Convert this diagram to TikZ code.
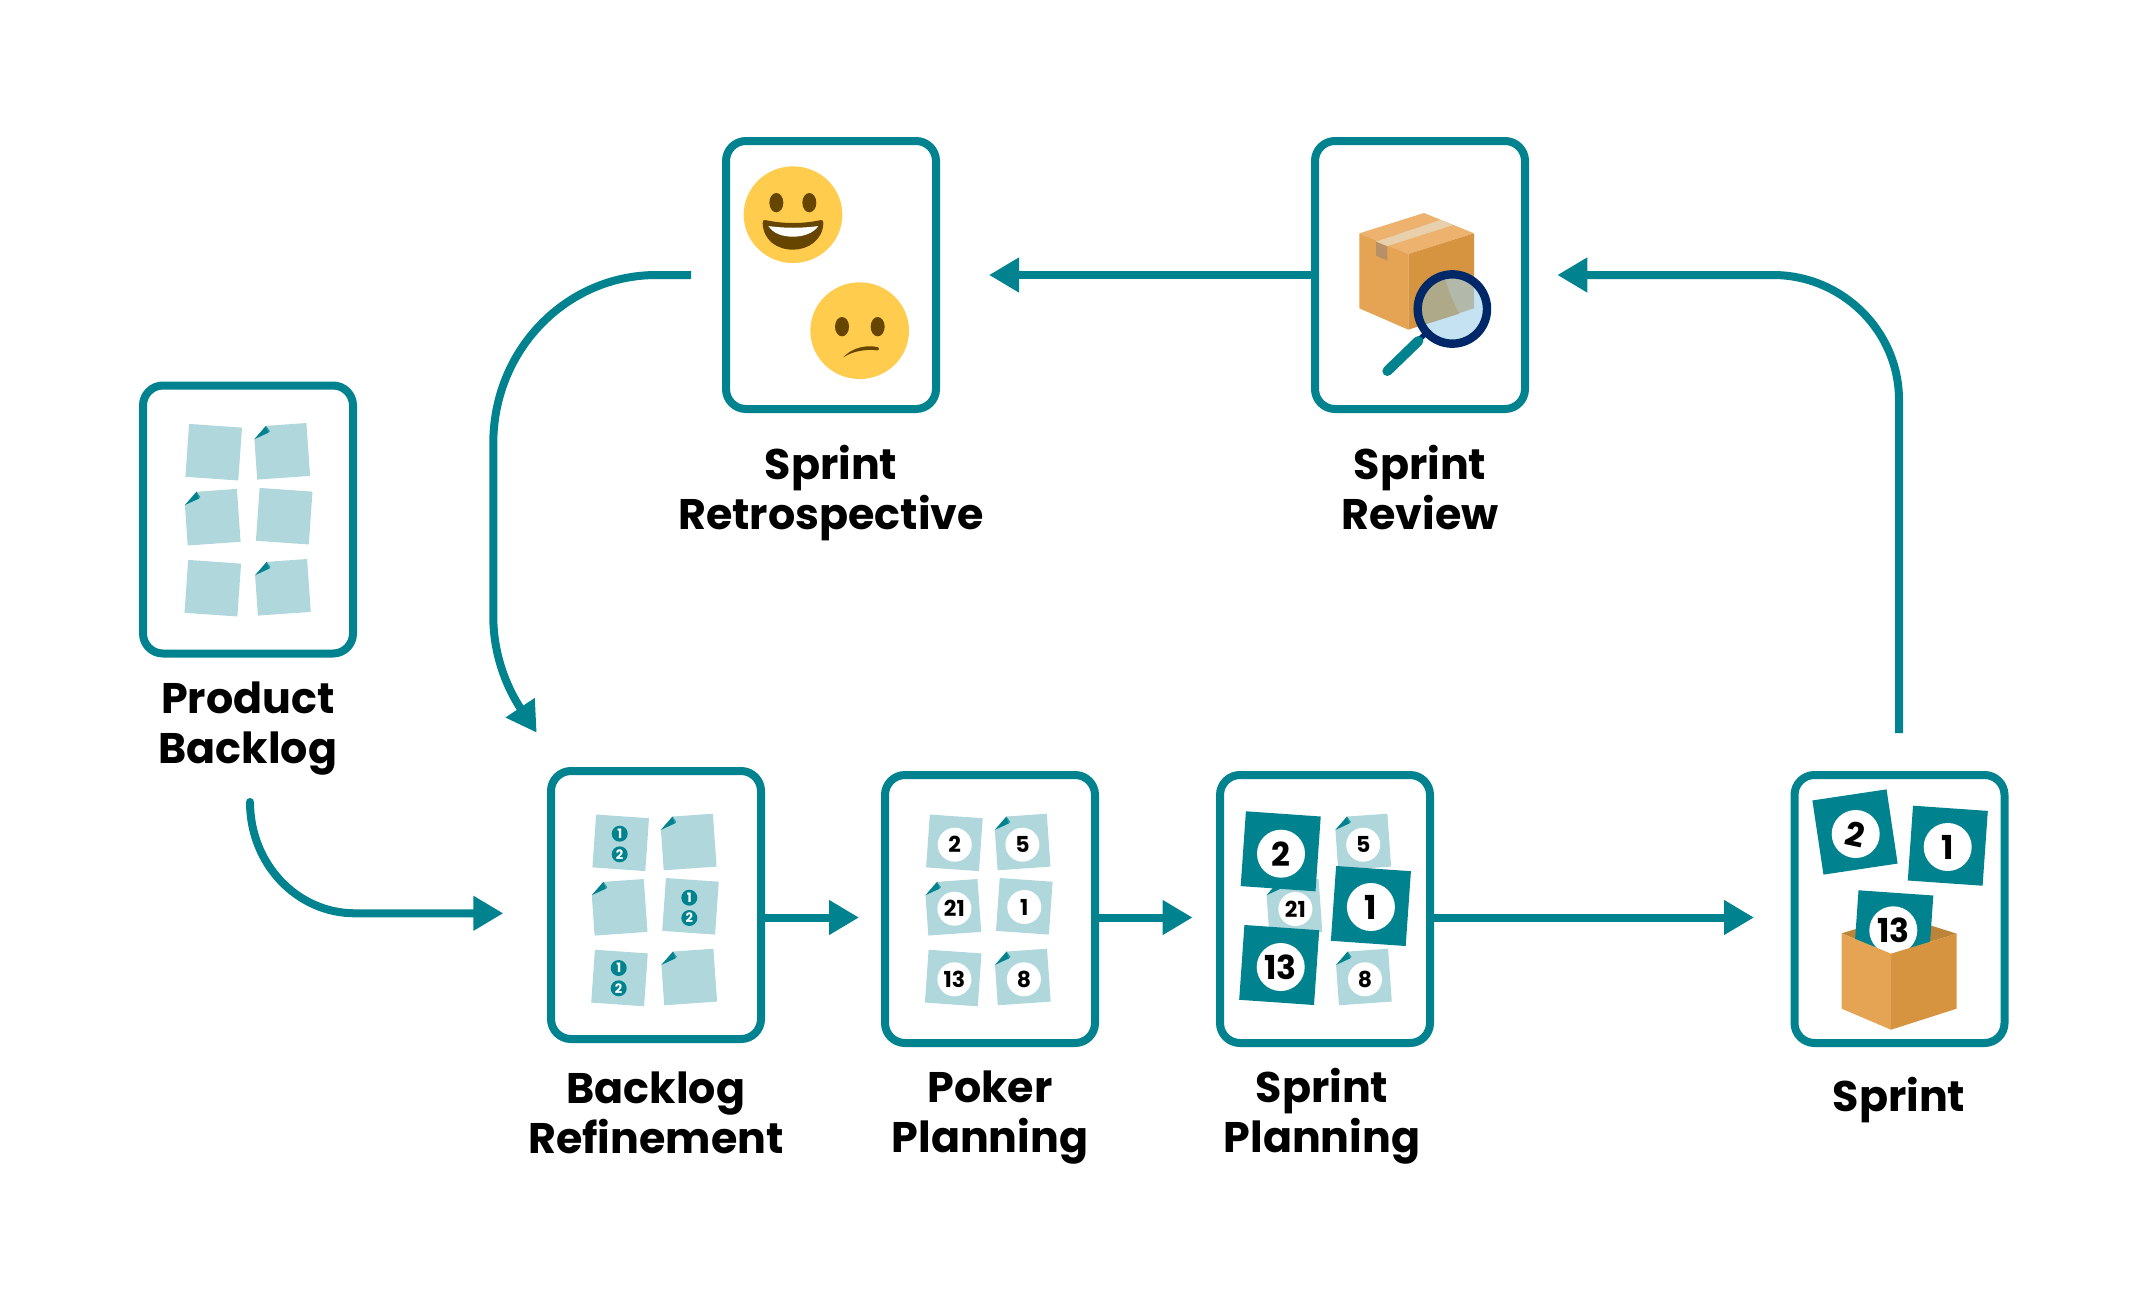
\documentclass[tikz,border=0pt]{standalone}
\usepackage{fontspec}
\setmainfont{Poppins}
\usetikzlibrary{arrows.meta}
\definecolor{tealc}{HTML}{00838F}
\definecolor{stick}{HTML}{B0D8DC}
\definecolor{foldl}{HTML}{2E9CA6}
\definecolor{boxl}{HTML}{E5A453}
\definecolor{boxr}{HTML}{D69440}
\definecolor{boxt}{HTML}{ECB26E}
\definecolor{boxb}{HTML}{BB8439}
\definecolor{emo}{HTML}{FFCC4D}
\definecolor{emod}{HTML}{664500}
\definecolor{navy}{HTML}{002868}
\definecolor{lensa}{HTML}{C5E2F2}
\definecolor{lensb}{HTML}{B2B9AA}
\definecolor{lensc}{HTML}{AEA988}
\definecolor{tapea}{HTML}{E9D0AD}
\definecolor{tapeb}{HTML}{B89068}
\tikzset{
  card/.style={draw=tealc,line width=4pt,fill=white,rounded corners=10pt,minimum width=105pt,minimum height=134pt,inner sep=0pt,outer sep=0pt},
  lbl/.style={font=\fontsize{21.4}{25}\selectfont\bfseries,align=center,text=black,inner sep=0pt},
  flow/.style={draw=tealc,line width=4pt,-{Triangle[length=15pt,width=16.5pt]}},
  chip/.style={circle,fill=white,text=black,inner sep=0pt,font=\fontsize{11}{11}\selectfont\bfseries,minimum size=17pt},
  bigchip/.style={circle,fill=white,text=black,inner sep=0pt,font=\fontsize{16.5}{16.5}\selectfont\bfseries,minimum size=24pt},
  tiny/.style={circle,fill=tealc,text=white,inner sep=0pt,font=\fontsize{6.5}{6.5}\selectfont\bfseries,minimum size=8pt},
  zoomc/.style={x=0.166667pt,y=-0.166667pt}
}
% centre x, centre y, rotation
\newcommand\plainnote[3]{\fill[stick,shift={(#1,#2)},rotate=#3] (-26.5,-26.5) rectangle (26.5,26.5);}
\newcommand\foldnote[3]{\begin{scope}[shift={(#1,#2)},rotate=#3]
  \fill[stick] (-14,-26.5) -- (26.5,-26.5) -- (26.5,26.5) -- (-26.5,26.5) -- (-26.5,-14) -- cycle;
  \fill[foldl] (-14,-26.5) -- (-10.5,-21) -- (-12,-19.5) -- cycle;
  \fill[tealc] (-26.5,-14) -- (-14,-26.5) -- (-12,-19.5) -- cycle;
\end{scope}}
\newcommand\darknote[3]{\fill[tealc,shift={(#1,#2)},rotate=#3] (-37.5,-37.5) rectangle (37.5,37.5);}
\begin{document}
\begin{tikzpicture}[x=0.5pt,y=-0.5pt]
\useasboundingbox (0,0) rectangle (2148,1301);
% free ends of the connectors
\coordinate (pbstart) at (250,802);
\coordinate (pbtip) at (503.3,913.3);
\coordinate (pokertip) at (859,917.5);
\coordinate (plantip) at (1192.6,917.5);
\coordinate (sprinttip) at (1754,917.5);
\coordinate (srstart) at (1899,733);
\coordinate (srtip) at (1557.3,275);
\coordinate (retrotip) at (989,275);
\coordinate (rtstart) at (691,275);
\coordinate (rttip) at (536.7,732.7);
% cards
\node[card] (product) at (248,519.5) {};
\node[card] (refine) at (656,905) {};
\node[card] (poker) at (990,909) {};
\node[card] (planning) at (1325,909) {};
\node[card] (sprint) at (1899.5,909) {};
\node[card] (retro) at (831,275) {};
\node[card] (review) at (1420,275) {};
% labels
\node[lbl] (lproduct) at (248,728.3) {Product\strut\\Backlog\strut};
\node[lbl] (lrefine) at (656,1118) {Backlog\strut\\Refinement\strut};
\node[lbl] (lpoker) at (990,1117) {Poker\strut\\Planning\strut};
\node[lbl] (lplanning) at (1322,1117) {Sprint\strut\\Planning\strut};
\node[lbl] (lsprint) at (1899,1101) {Sprint\strut};
\node[lbl] (lretro) at (831,494.5) {Sprint\strut\\Retrospective\strut};
\node[lbl] (lreview) at (1420,494.5) {Sprint\strut\\Review\strut};
% connectors
\draw[flow,line cap=round] (pbstart) .. controls (250,864) and (297,913.3) .. (355,913.3) -- (pbtip);
\draw[flow] (refine.east |- pokertip) -- (pokertip);
\draw[flow] (poker.east |- plantip) -- (plantip);
\draw[flow] (planning.east |- sprinttip) -- (sprinttip);
\draw[flow] (srstart) -- (1899,400) .. controls (1899,331) and (1842,275) .. (1773,275) -- (srtip);
\draw[flow] (review.west) -- (retrotip);
\draw[flow] (rtstart) -- (656.7,275) .. controls (566,275) and (493.3,350) .. (493.3,443.3) -- (493.3,616.7) .. controls (493.3,655) and (507,688) .. (rttip);
% product backlog notes
\plainnote{213.7}{452.2}{-4}
\foldnote{281.8}{451.3}{4}
\foldnote{212.3}{517.2}{4}
\plainnote{284.2}{516.2}{-4}
\plainnote{212.8}{588.2}{-4}
\foldnote{282.5}{587.3}{4}
% refinement notes
\plainnote{620.7}{842.8}{-4}
\foldnote{688.3}{842}{4}
\foldnote{619.2}{907.3}{4}
\plainnote{690.5}{906.3}{-4}
\plainnote{619.5}{978}{-4}
\foldnote{688.8}{977}{4}
\node[tiny] (ra) at (619.7,833.7) {1};
\node[tiny] (rb) at (619.7,854.3) {2};
\node[tiny] (rc) at (689.3,897.7) {1};
\node[tiny] (rd) at (689.3,918) {2};
\node[tiny] (re) at (618.7,968) {1};
\node[tiny] (rf) at (618.7,988.3) {2};
% poker notes
\plainnote{954.4}{842.8}{-4}
\foldnote{1022.2}{842}{4}
\foldnote{952.9}{907.3}{4}
\plainnote{1024.3}{906.3}{-4}
\plainnote{953.2}{978}{-4}
\foldnote{1022.4}{977}{4}
\node[chip] (pa) at (954.7,844.7) {2};
\node[chip] (pb) at (1022.4,844.7) {5};
\node[chip] (pc) at (954.4,908.7) {21};
\node[chip] (pd) at (1024.3,907) {1};
\node[chip] (pe) at (954.4,979.3) {13};
\node[chip] (pf) at (1023.9,979.3) {8};
% sprint planning notes
\foldnote{1362.8}{842}{4}
\node[chip] (qb) at (1363.2,844.7) {5};
\foldnote{1294}{907.3}{4}
\node[chip] (qc) at (1295.4,909) {21};
\foldnote{1363.5}{977}{4}
\node[chip] (qf) at (1365,979.3) {8};
\darknote{1280.7}{851.3}{-4}
\node[bigchip] (qa) at (1281,853.7) {2};
\darknote{1370.9}{906}{-4}
\node[bigchip] (qd) at (1370.9,907) {1};
\darknote{1279.2}{965}{-4}
\node[bigchip] (qe) at (1280.7,967) {13};
% sprint
\darknote{1855}{832}{8.5}
\node[bigchip] (sa) at (1855.7,834) {\rotatebox{-12}{2}};
\darknote{1947.8}{845.7}{-4}
\node[bigchip] (sb) at (1947.7,847) {1};
\begin{scope}[shift={(1780,760)},zoomc]
  \fill[boxb] (185,520) -- (283,490) -- (432,490) -- (530,521) -- (333,581) -- cycle;
\end{scope}
\darknote{1893.3}{930.3}{-4}
\node[bigchip] (sc) at (1893.3,930.3) {13};
\begin{scope}[shift={(1780,760)},zoomc]
  \fill[boxl] (185,520) -- (333,581) -- (333,809) -- (185,746) -- cycle;
  \fill[boxr] (333,581) -- (530,521) -- (530,746) -- (333,809) -- cycle;
\end{scope}
% retrospective faces
\begin{scope}[shift={(710,125)},zoomc]
  \fill[emo] (249,269) ellipse [x radius=148,y radius=145];
  \fill[emod] (199,233) ellipse [x radius=21,y radius=29];
  \fill[emod] (298,233) ellipse [x radius=21,y radius=29];
  \fill[emod] (165,285) .. controls (220,297) and (280,297) .. (333,285) .. controls (339,284) and (340,290) .. (340,295) .. controls (338,345) and (295,374) .. (249,374) .. controls (200,374) and (160,345) .. (158,295) .. controls (158,288) and (160,284) .. (165,285) -- cycle;
  \fill[white] (175,303) .. controls (225,310) and (275,310) .. (325,303) .. controls (310,325) and (280,335) .. (249,335) .. controls (215,335) and (190,325) .. (175,303) -- cycle;
  \fill[emo] (449,617) ellipse [x radius=148,y radius=145];
  \fill[emod] (396,605) ellipse [x radius=21,y radius=29];
  \fill[emod] (503,605) ellipse [x radius=21,y radius=29];
  \fill[emod] (400,697) .. controls (425,668) and (470,658) .. (505,667) .. controls (509,670) and (507,677) .. (502,676) .. controls (470,672) and (430,677) .. (400,697) -- cycle;
\end{scope}
% review box and magnifier
\begin{scope}[shift={(1300,125)},zoomc]
  \fill[boxt] (178,325) -- (372,264) -- (522,325) -- (325,387) -- cycle;
  \fill[boxl] (178,325) -- (325,387) -- (325,614) -- (178,550) -- cycle;
  \fill[boxr] (325,387) -- (522,325) -- (522,550) -- (325,614) -- cycle;
  \fill[tapea] (228,350) -- (421,285) -- (460,300) -- (262,363) -- cycle;
  \fill[tapeb] (228,350) -- (262,365) -- (262,407) -- (228,392) -- cycle;
  \begin{scope}
    \clip (457,552) ellipse [x radius=100,y radius=100];
    \fill[lensa] (340,430) rectangle (580,670);
    \fill[lensb] (325,387) -- (522,325) -- (522,550) -- (325,614) -- cycle;
    \fill[lensc] (325,445) -- (432,445) .. controls (445,505) and (465,540) .. (478,566) -- (325,614) -- cycle;
  \end{scope}
  \draw[navy,line width=4.2pt] (457,552) ellipse [x radius=104,y radius=104];
  \draw[navy,line width=2.5pt] (360,642) -- (380,622);
  \draw[tealc,line width=5pt,line cap=round] (355,648) -- (262,738);
\end{scope}
\end{tikzpicture}
\end{document}
